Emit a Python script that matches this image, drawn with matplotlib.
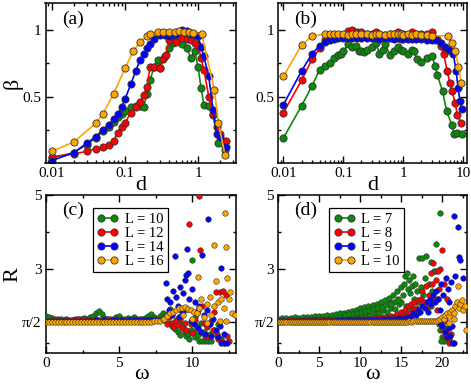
import numpy as np
import matplotlib
matplotlib.use("Agg")
import matplotlib.pyplot as plt
from matplotlib.lines import Line2D
from matplotlib.ticker import LogLocator, NullFormatter, FixedLocator

plt.rcParams['font.family'] = ['Liberation Serif', 'DejaVu Serif']
plt.rcParams['mathtext.fontset'] = 'stix'

GREEN = '#0a8a0a'
RED = '#ff0000'
BLUE = '#0000ff'
ORANGE = '#ffa500'
EDGE = '#333333'

# ---------------- panel (a) ----------------
a_green_d = [0.01, 0.02, 0.03, 0.04, 0.05, 0.06, 0.07, 0.08, 0.09, 0.1, 0.12, 0.14, 0.16, 0.18, 0.2, 0.22,
             0.25, 0.28, 0.3, 0.35, 0.4, 0.45, 0.5, 0.6, 0.7, 0.8, 0.9, 1.0, 1.1, 1.2, 1.4, 1.6, 1.9, 2.3]
a_green_b = [0.04, 0.08, 0.14, 0.19, 0.24, 0.27, 0.31, 0.35, 0.37, 0.39, 0.42, 0.43, 0.43, 0.42, 0.52, 0.62,
             0.72, 0.77, 0.71, 0.80, 0.86, 0.90, 0.93, 0.89, 0.86, 0.79, 0.84, 0.72, 0.56, 0.44, 0.43, 0.36, 0.15, 0.10]
a_red_d = [0.01, 0.02, 0.03, 0.04, 0.05, 0.06, 0.07, 0.08, 0.09, 0.1, 0.12, 0.14, 0.16, 0.18, 0.2, 0.22,
           0.25, 0.3, 0.33, 0.36, 0.4, 0.5, 0.6, 0.7, 0.8, 0.9, 1.0, 1.1, 1.2, 1.4, 1.6, 1.8, 2.0, 2.4]
a_red_b = [0.05, 0.07, 0.09, 0.11, 0.12, 0.14, 0.17, 0.23, 0.27, 0.30, 0.38, 0.42, 0.46, 0.51, 0.57, 0.72,
           0.72, 0.71, 0.78, 0.81, 0.92, 0.91, 0.94, 0.93, 0.92, 0.90, 0.88, 0.79, 0.70, 0.50, 0.37, 0.27, 0.22, 0.17]
a_blue_d = [0.01, 0.02, 0.03, 0.04, 0.05, 0.06, 0.07, 0.08, 0.09, 0.1, 0.12, 0.14, 0.16, 0.18, 0.2, 0.22,
            0.25, 0.3, 0.35, 0.4, 0.45, 0.5, 0.6, 0.7, 0.8, 0.9, 1.0, 1.1, 1.2, 1.4, 1.6, 1.8, 2.0, 2.4]
a_blue_b = [0.02, 0.08, 0.15, 0.20, 0.25, 0.29, 0.33, 0.37, 0.42, 0.48, 0.59, 0.69, 0.77, 0.82, 0.86, 0.89,
            0.93, 0.96, 0.96, 0.95, 0.96, 0.97, 1.0, 0.99, 0.97, 0.96, 0.95, 0.87, 0.80, 0.65, 0.40, 0.22, 0.20, 0.12]
a_orange_d = [0.01, 0.02, 0.04, 0.05, 0.07, 0.1, 0.13, 0.16, 0.2, 0.22, 0.28, 0.33, 0.4, 0.48, 0.55, 0.64,
              0.75, 0.85, 1.12, 1.67, 1.9, 2.34]
a_orange_b = [0.09, 0.16, 0.30, 0.37, 0.52, 0.71, 0.84, 0.91, 0.95, 0.97, 0.985, 0.985, 0.98, 0.985, 0.99, 0.985,
              0.98, 0.975, 0.97, 0.55, 0.30, 0.06]

# ---------------- panel (b) ----------------
b_green_d = [0.01, 0.02, 0.03, 0.04, 0.05, 0.06, 0.07, 0.08, 0.09, 0.1, 0.12, 0.14, 0.16, 0.18, 0.2, 0.22, 0.25,
             0.3, 0.35, 0.4, 0.45, 0.5, 0.6, 0.7, 0.8, 0.9, 1.0, 1.2, 1.4, 1.5, 1.7, 2.0, 2.5, 3.0, 3.4, 3.7,
             4.5, 5.3, 6.4, 7.1, 8.0, 9.4]
b_green_b = [0.19, 0.43, 0.58, 0.70, 0.73, 0.75, 0.79, 0.81, 0.82, 0.84, 0.89, 0.87, 0.88, 0.84, 0.84, 0.83, 0.85,
             0.87, 0.90, 0.82, 0.85, 0.89, 0.81, 0.84, 0.87, 0.85, 0.84, 0.82, 0.85, 0.84, 0.78, 0.76, 0.79, 0.80,
             0.73, 0.66, 0.54, 0.39, 0.29, 0.22, 0.23, 0.22]
b_red_d = [0.01, 0.02, 0.03, 0.04, 0.05, 0.06, 0.07, 0.08, 0.1, 0.12, 0.14, 0.17, 0.2, 0.25, 0.3, 0.35, 0.4, 0.5,
           0.6, 0.7, 0.8, 0.9, 1.0, 1.2, 1.4, 1.6, 2.0, 2.5, 3.0, 3.6, 4.2, 4.7, 5.4, 6.0, 6.5, 7.3, 8.0, 9.1]
b_red_b = [0.38, 0.62, 0.78, 0.86, 0.92, 0.93, 0.95, 0.95, 0.96, 0.99, 1.0, 0.98, 0.98, 0.97, 0.97, 0.98, 0.97, 0.96,
           0.97, 0.97, 0.98, 0.97, 0.97, 0.96, 0.98, 0.97, 0.97, 0.97, 0.985, 0.93, 0.88, 0.82, 0.69, 0.60, 0.54,
           0.45, 0.36, 0.305]
b_blue_d = [0.01, 0.02, 0.03, 0.04, 0.05, 0.06, 0.07, 0.08, 0.1, 0.12, 0.14, 0.17, 0.2, 0.25, 0.3, 0.35, 0.4, 0.5,
            0.6, 0.7, 0.8, 0.9, 1.0, 1.2, 1.4, 1.6, 2.0, 2.5, 3.0, 3.5, 4.2, 5.0, 5.8, 6.8, 7.6, 8.2, 8.8, 9.4]
b_blue_b = [0.44, 0.69, 0.82, 0.88, 0.91, 0.92, 0.93, 0.935, 0.94, 0.94, 0.935, 0.935, 0.94, 0.935, 0.935, 0.935,
            0.93, 0.935, 0.935, 0.93, 0.935, 0.93, 0.93, 0.93, 0.93, 0.93, 0.93, 0.925, 0.925, 0.92, 0.90, 0.87,
            0.85, 0.82, 0.69, 0.56, 0.47, 0.41]
b_orange_d = [0.01, 0.02, 0.03, 0.05, 0.06, 0.07, 0.08, 0.1, 0.12, 0.14, 0.16, 0.2, 0.25, 0.3, 0.35, 0.4, 0.5,
              0.6, 0.7, 0.8, 0.9, 1.0, 1.2, 1.4, 1.6, 2.0, 2.5, 3.0, 5.5, 6.5, 7.4, 8.3, 9.3]
b_orange_b = [0.65, 0.886, 0.95, 0.97, 0.97, 0.97, 0.965, 0.965, 0.96, 0.965, 0.97, 0.965, 0.965, 0.96, 0.97,
              0.965, 0.96, 0.965, 0.97, 0.965, 0.97, 0.96, 0.965, 0.96, 0.965, 0.96, 0.96, 0.955, 0.955, 0.90,
              0.84, 0.72, 0.60]

# ---------------- panel (c) ----------------
c_base_w = [0.0, 0.2, 0.4, 0.6, 0.8, 1.0, 1.2, 1.4, 1.6, 1.8, 2.0, 2.2, 2.4, 2.6, 2.8, 3.0, 3.2, 3.4, 3.6, 3.8,
            4.0, 4.2, 4.4, 4.6, 4.8, 5.0, 5.2, 5.4, 5.6, 5.8, 6.0, 6.2, 6.4, 6.6, 6.8, 7.0, 7.2, 7.4, 7.6, 7.8, 8.0]
c_green_base = [1.72, 1.70, 1.68, 1.66, 1.65, 1.64, 1.63, 1.64, 1.63, 1.62, 1.64, 1.66, 1.65, 1.68, 1.66, 1.70,
                1.74, 1.80, 1.86, 1.78, 1.68, 1.65, 1.64, 1.66, 1.70, 1.72, 1.66, 1.64, 1.68, 1.65, 1.70, 1.66,
                1.64, 1.66, 1.68, 1.72, 1.78, 1.70, 1.66, 1.74, 1.80]
c_red_base = [1.60, 1.60, 1.61, 1.60, 1.61, 1.60, 1.60, 1.61, 1.60, 1.61, 1.62, 1.64, 1.63, 1.65, 1.62, 1.61,
              1.63, 1.64, 1.62, 1.61, 1.63, 1.65, 1.62, 1.61, 1.64, 1.63, 1.62, 1.61, 1.63, 1.62, 1.64, 1.62,
              1.63, 1.61, 1.62, 1.63, 1.62, 1.64, 1.63, 1.62, 1.65]
c_blue_base = [1.59, 1.59, 1.59, 1.59, 1.59, 1.59, 1.59, 1.59, 1.60, 1.59, 1.60, 1.60, 1.59, 1.60, 1.60, 1.60,
               1.60, 1.61, 1.60, 1.60, 1.61, 1.60, 1.60, 1.61, 1.61, 1.60, 1.61, 1.60, 1.61, 1.61, 1.62, 1.61,
               1.61, 1.62, 1.61, 1.62, 1.62, 1.61, 1.62, 1.63, 1.64]
c_orange_base = [1.57, 1.57, 1.57, 1.57, 1.57, 1.57, 1.57, 1.57, 1.57, 1.57, 1.57, 1.57, 1.57, 1.57, 1.57, 1.57,
                 1.57, 1.57, 1.57, 1.57, 1.57, 1.57, 1.57, 1.57, 1.57, 1.57, 1.57, 1.57, 1.57, 1.57, 1.57, 1.57,
                 1.57, 1.57, 1.57, 1.57, 1.57, 1.58, 1.58, 1.60, 1.64]

c_green_w = [8.2, 8.4, 8.5, 8.6, 8.8, 8.9, 9.0, 9.1, 9.2, 9.3, 9.4, 9.5, 9.6, 9.7, 9.8, 9.9, 10.0, 10.1, 10.2,
             10.3, 10.4, 10.5, 10.7, 10.9, 11.1, 11.3, 10.6, 10.8, 11.0, 11.2, 11.5, 11.7, 12.0, 11.8, 9.5, 10.2]
c_green_r = [1.75, 1.55, 1.92, 1.45, 1.38, 1.62, 1.30, 1.70, 1.22, 1.52, 1.42, 1.30, 1.18, 1.25, 1.12, 1.35,
             3.24, 1.28, 1.15, 1.45, 1.22, 1.04, 1.04, 1.04, 1.04, 1.04, 1.55, 1.30, 1.42, 1.25, 1.35, 1.20,
             1.10, 1.50, 1.90, 1.70]
c_red_w = [8.1, 8.3, 8.4, 8.6, 8.7, 8.9, 9.0, 9.2, 9.3, 9.5, 9.6, 9.8, 9.9, 10.0, 10.2, 10.3, 10.5, 10.55,
           10.6, 10.8, 10.9, 11.0, 11.2, 11.3, 11.4, 11.6, 11.7, 11.8, 11.9, 12.0, 12.1, 12.2, 12.3, 12.4, 11.5,
           10.7, 12.5, 10.4]
c_red_r = [1.62, 1.50, 1.70, 1.55, 1.42, 1.60, 1.48, 1.66, 1.40, 1.55, 1.35, 4.22, 1.50, 1.28, 1.62, 1.40,
           4.97, 3.51, 1.30, 1.55, 1.20, 1.45, 1.15, 1.60, 1.35, 2.39, 1.25, 1.10, 2.39, 1.05, 2.41, 1.00,
           2.30, 1.20, 1.85, 2.00, 1.05, 1.90]
c_blue_w = [8.2, 8.3, 8.4, 8.5, 8.6, 8.7, 8.84, 8.9, 9.0, 9.1, 9.2, 9.3, 9.4, 9.5, 9.6, 9.64, 9.7, 9.8, 9.9,
            10.0, 10.1, 10.2, 10.3, 10.4, 10.5, 10.6, 10.7, 10.8, 10.9, 11.1, 11.0, 11.2, 11.3, 11.4, 11.6, 11.8,
            12.0, 12.0, 12.2, 12.4, 11.9, 12.2]
c_blue_r = [2.62, 2.20, 1.90, 2.10, 1.75, 2.40, 3.35, 2.25, 2.00, 1.70, 2.50, 1.85, 2.35, 2.70, 2.85, 3.54,
            2.90, 2.20, 1.60, 2.45, 1.50, 2.10, 1.80, 1.40, 2.00, 1.30, 3.38, 1.75, 1.25, 4.35, 1.90, 1.50,
            1.20, 1.65, 1.35, 1.15, 3.02, 1.00, 1.00, 1.00, 1.45, 1.25]
c_orange_w = [8.1, 8.3, 8.5, 8.7, 8.9, 9.1, 9.3, 9.5, 9.7, 9.9, 10.1, 10.3, 10.5, 10.43, 10.6, 10.8, 11.0, 11.2,
              11.3, 11.5, 11.5, 11.6, 11.8, 11.9, 12.0, 12.2, 12.26, 12.3, 12.4, 12.5, 12.6, 12.7, 12.9, 12.3,
              11.0, 9.4, 10.0]
c_orange_r = [1.65, 1.72, 1.80, 1.85, 1.90, 1.95, 1.95, 1.98, 1.92, 1.88, 1.85, 1.80, 1.95, 2.79, 2.20, 1.70,
              2.05, 2.25, 1.75, 3.65, 2.00, 2.68, 2.10, 1.60, 2.20, 1.95, 4.50, 3.60, 2.75, 2.20, 2.37, 1.80,
              1.75, 1.60, 1.55, 1.75, 1.65]

# ---------------- panel (d) ----------------
d_base_w = [0.0, 0.25, 0.5, 0.75, 1.0, 1.25, 1.5, 1.75, 2.0, 2.25, 2.5, 2.75, 3.0, 3.25, 3.5, 3.75, 4.0, 4.25,
            4.5, 4.75, 5.0, 5.25, 5.5, 5.75, 6.0, 6.25, 6.5, 6.75, 7.0, 7.25, 7.5, 7.75, 8.0, 8.25, 8.5, 8.75,
            9.0, 9.25, 9.5, 9.75, 10.0, 10.25, 10.5, 10.75, 11.0, 11.25, 11.5, 11.75, 12.0, 12.25, 12.5, 12.75,
            13.0, 13.25, 13.5, 13.75, 14.0, 14.25, 14.5, 14.75, 15.0, 15.25, 15.5, 15.75, 16.0, 16.25, 16.5,
            16.75, 17.0, 17.25, 17.5, 17.75, 18.0, 18.25, 18.5, 18.75, 19.0]

d_green_base = [1.66, 1.62, 1.68, 1.62, 1.67, 1.63, 1.68, 1.62, 1.69, 1.63, 1.68, 1.63, 1.70, 1.63, 1.69, 1.64,
                1.71, 1.63, 1.72, 1.64, 1.72, 1.64, 1.73, 1.65, 1.75, 1.64, 1.76, 1.66, 1.78, 1.65, 1.80, 1.67,
                1.82, 1.68, 1.84, 1.70, 1.86, 1.72, 1.90, 1.74, 1.94, 1.72, 1.96, 1.78, 2.00, 1.75, 2.02, 1.82,
                2.06, 1.80, 2.10, 1.88, 2.15, 1.85, 2.22, 1.95, 2.30, 1.92, 2.40, 2.05, 2.50]
d_green_mid_w = [8.1, 8.6, 9.1, 9.6, 10.1, 10.6, 11.1, 11.6, 12.1, 12.6, 13.1, 13.6, 14.1, 14.6]
d_green_mid_r = [1.75, 1.77, 1.79, 1.82, 1.84, 1.86, 1.90, 1.92, 1.95, 1.98, 2.02, 2.08, 2.12, 2.20]
d_green_w = [15.2, 15.4, 15.5, 15.7, 15.8, 16.0, 16.1, 16.3, 16.4, 16.6, 16.7, 16.9, 17.0, 17.2, 17.4, 17.5, 17.7,
             17.9, 18.0, 18.2, 18.4, 18.6, 18.8, 19.0, 19.2, 19.3, 19.5, 19.8, 19.6, 19.8, 20.0, 20.2, 20.4, 20.6,
             19.9, 20.8, 15.0, 15.6, 16.2, 14.6, 13.8, 18.7]
d_green_r = [2.30, 2.60, 2.80, 2.90, 2.45, 2.70, 2.35, 2.55, 2.80, 2.20, 2.60, 2.40, 2.10, 3.30, 2.50, 3.31, 2.30,
             2.75, 3.35, 2.10, 2.60, 2.00, 2.40, 2.95, 3.67, 2.95, 2.20, 4.52, 1.50, 1.35, 1.15, 1.04, 1.40, 1.20,
             1.05, 1.10, 2.10, 2.00, 1.95, 2.15, 2.05, 3.20]

d_red_base = [1.60, 1.60, 1.60, 1.60, 1.60, 1.61, 1.60, 1.61, 1.60, 1.61, 1.61, 1.60, 1.61, 1.61, 1.60, 1.61,
              1.61, 1.61, 1.61, 1.62, 1.62, 1.61, 1.62, 1.62, 1.62, 1.63, 1.62, 1.62, 1.62, 1.63, 1.63, 1.62,
              1.62, 1.63, 1.63, 1.64, 1.63, 1.64, 1.64, 1.65, 1.63, 1.65, 1.65, 1.66, 1.64, 1.66, 1.66, 1.67,
              1.65, 1.68, 1.68, 1.70, 1.66, 1.70, 1.70, 1.72, 1.68]
d_red_w = [14.2, 14.5, 14.8, 15.0, 15.3, 15.5, 15.8, 16.0, 16.2, 16.4, 16.6, 16.8, 17.0, 17.2, 17.4, 17.6, 17.8,
           18.0, 18.2, 18.4, 18.6, 18.8, 19.0, 19.2, 19.4, 19.6, 19.8, 20.0, 20.2, 20.4, 20.1, 20.3, 20.5, 20.7,
           20.9, 21.1, 21.3, 20.6, 19.5, 18.9]
d_red_r = [1.72, 1.78, 1.70, 1.85, 1.75, 1.90, 2.00, 1.80, 2.05, 1.90, 2.10, 1.95, 2.15, 1.85, 2.20, 2.40, 2.10,
           2.55, 1.95, 2.30, 2.90, 2.60, 2.20, 2.70, 1.90, 2.45, 3.00, 3.51, 2.60, 1.60, 1.35, 1.20, 1.30, 1.10,
           1.00, 1.25, 1.00, 2.20, 2.95, 3.15]

d_blue_base = [1.58, 1.58, 1.58, 1.58, 1.58, 1.58, 1.58, 1.59, 1.58, 1.59, 1.59, 1.59, 1.59, 1.59, 1.59, 1.59,
               1.59, 1.59, 1.59, 1.60, 1.59, 1.60, 1.60, 1.60, 1.60, 1.60, 1.60, 1.60, 1.60, 1.61, 1.60, 1.61,
               1.60, 1.61, 1.61, 1.61, 1.61, 1.61, 1.61, 1.62, 1.61, 1.62, 1.62, 1.62, 1.62, 1.63, 1.62, 1.63,
               1.62, 1.63, 1.63, 1.64, 1.63, 1.64, 1.64, 1.65, 1.64, 1.66, 1.65, 1.67, 1.66, 1.68, 1.67, 1.70,
               1.69]
d_blue_w = [16.2, 16.5, 16.8, 17.0, 17.3, 17.6, 17.9, 18.1, 18.3, 18.5, 18.7, 18.9, 19.1, 19.3, 19.5, 19.7, 19.9,
            20.1, 20.3, 20.5, 20.7, 20.9, 21.1, 21.2, 21.4, 21.6, 21.9, 22.0, 22.2, 22.5, 20.4, 20.6, 20.8, 21.0,
            21.2, 21.5, 19.8, 20.0]
d_blue_r = [1.70, 1.80, 1.75, 1.90, 1.85, 2.00, 1.95, 2.10, 1.85, 2.20, 2.05, 2.30, 2.10, 2.40, 2.20, 1.90, 2.60,
            2.30, 1.70, 2.75, 2.45, 2.10, 2.65, 1.45, 4.43, 2.80, 4.14, 3.33, 3.24, 2.75, 1.30, 1.15, 1.40, 1.20,
            1.00, 1.00, 1.55, 1.45]

d_orange_base = [1.57, 1.57, 1.57, 1.57, 1.57, 1.57, 1.57, 1.57, 1.57, 1.57, 1.57, 1.57, 1.57, 1.57, 1.57, 1.57,
                 1.57, 1.57, 1.57, 1.57, 1.57, 1.57, 1.57, 1.57, 1.57, 1.57, 1.57, 1.57, 1.57, 1.57, 1.57, 1.57,
                 1.57, 1.57, 1.57, 1.57, 1.57, 1.57, 1.57, 1.57, 1.57, 1.57, 1.57, 1.57, 1.57, 1.57, 1.57, 1.57,
                 1.57, 1.57, 1.57, 1.57, 1.57, 1.57, 1.57, 1.57, 1.57, 1.57, 1.57, 1.57, 1.57, 1.57, 1.57, 1.57,
                 1.58, 1.57, 1.58, 1.58, 1.58, 1.58, 1.59, 1.58, 1.59, 1.59, 1.60, 1.59, 1.60]
d_orange_w = [19.2, 19.5, 19.8, 20.0, 20.2, 20.4, 20.6, 20.8, 21.0, 21.2, 21.4, 21.6, 21.8, 21.9, 22.0, 22.2,
              22.4, 22.6, 22.8, 22.9, 21.5, 20.9]
d_orange_r = [1.60, 1.62, 1.65, 1.70, 1.66, 1.75, 1.80, 1.72, 1.85, 1.90, 1.80, 2.00, 2.10, 2.54, 1.95, 2.05,
              2.15, 1.90, 2.00, 1.35, 1.65, 1.55]

W, H = 471, 385
fig = plt.figure(figsize=(W / 100, H / 100), dpi=100)


def box(x0, y0, x1, y1):
    # pixel box -> figure fraction
    return [x0 / W, 1 - y1 / H, (x1 - x0) / W, (y1 - y0) / H]


def style(ax):
    ax.tick_params(which='both', direction='in', top=True, right=True, labelsize=11, pad=3)
    ax.tick_params(which='major', length=5, width=1)
    ax.tick_params(which='minor', length=2.5, width=1)
    for s in ax.spines.values():
        s.set_linewidth(1.1)


ax_a = fig.add_axes(box(45.5, 3, 236, 163.3))
ax_b = fig.add_axes(box(278.3, 3, 466.7, 163.3))
ax_c = fig.add_axes(box(46, 195, 236, 353.3))
ax_d = fig.add_axes(box(278.3, 195, 466.7, 353.3))

line_kw = dict(marker='o', markersize=5.2, markeredgecolor=EDGE, markeredgewidth=0.6, linewidth=1.2)

for ax, sets, xlim in [
    (ax_a, [(a_green_d, a_green_b, GREEN), (a_red_d, a_red_b, RED),
            (a_blue_d, a_blue_b, BLUE), (a_orange_d, a_orange_b, ORANGE)], (0.0082, 3.3)),
    (ax_b, [(b_green_d, b_green_b, GREEN), (b_red_d, b_red_b, RED),
            (b_blue_d, b_blue_b, BLUE), (b_orange_d, b_orange_b, ORANGE)], (0.0082, 11.4)),
]:
    for x, y, c in sets:
        ax.plot(x, y, color=c, markerfacecolor=c, **line_kw)
    ax.set_xscale('log')
    ax.set_xlim(*xlim)
    ax.set_ylim(0, 1.2)
    ax.xaxis.set_major_locator(FixedLocator([0.01, 0.1, 1, 10]))
    ax.set_xticklabels(['0.01', '0.1', '1', '10'])
    ax.xaxis.set_minor_locator(LogLocator(base=10, subs=np.arange(2, 10)))
    ax.xaxis.set_minor_formatter(NullFormatter())
    ax.set_yticks([0.5, 1])
    ax.set_yticklabels(['0.5', '1'])
    ax.set_yticks([0.25, 0.75], minor=True)
    ax.set_xlabel('d', fontsize=16, labelpad=-3)
    style(ax)

ax_a.set_xlim(0.0082, 3.3)
ax_a.set_ylabel('β', fontsize=16, labelpad=0)

sc_kw = dict(s=16, edgecolors=EDGE, linewidths=0.4, zorder=3)

for x, y, c in [(c_base_w, c_green_base, GREEN), (c_green_w, c_green_r, GREEN),
                (c_base_w, c_red_base, RED), (c_red_w, c_red_r, RED),
                (c_base_w, c_blue_base, BLUE), (c_blue_w, c_blue_r, BLUE),
                (c_base_w, c_orange_base, ORANGE), (c_orange_w, c_orange_r, ORANGE)]:
    ax_c.scatter(x, y, color=c, **sc_kw)

for x, y, c in [(d_base_w[:61], d_green_base, GREEN), (d_green_mid_w, d_green_mid_r, GREEN),
                (d_green_w, d_green_r, GREEN),
                (d_base_w[:57], d_red_base, RED), (d_red_w, d_red_r, RED),
                (d_base_w[:65], d_blue_base, BLUE), (d_blue_w, d_blue_r, BLUE),
                (d_base_w, d_orange_base, ORANGE), (d_orange_w, d_orange_r, ORANGE)]:
    ax_d.scatter(x, y, color=c, **sc_kw)

ax_c.set_xlim(0, 13)
ax_d.set_xlim(0, 23)
for ax, xmaj, xmin in [(ax_c, [0, 5, 10], [2.5, 7.5, 12.5]),
                       (ax_d, [0, 5, 10, 15, 20], [2.5, 7.5, 12.5, 17.5, 22.5])]:
    ax.set_ylim(0.72, 5)
    ax.set_yticks([np.pi / 2, 3, 5])
    ax.set_yticklabels(['π/2', '3', '5'])
    ax.set_yticks([1, 4], minor=True)
    ax.set_xticks(xmaj)
    ax.set_xticks(xmin, minor=True)
    ax.set_xlabel('ω', fontsize=16, labelpad=-4)
    style(ax)

ax_c.set_ylabel('R', fontsize=16, labelpad=0)

for ax, lab in [(ax_a, '(a)'), (ax_b, '(b)'), (ax_c, '(c)'), (ax_d, '(d)')]:
    ax.text(0.085, 0.955, lab, transform=ax.transAxes, ha='left', va='top', fontsize=14)


def handles(labels):
    return [Line2D([0], [0], color=c, markerfacecolor=c, label=l, **line_kw)
            for c, l in zip([GREEN, RED, BLUE, ORANGE], labels)]


for ax, labels, pos in [(ax_c, ['L = 10', 'L = 12', 'L = 14', 'L = 16'], (0.245, 0.915)),
                        (ax_d, ['L = 7', 'L = 8', 'L = 9', 'L = 10'], (0.268, 0.915))]:
    leg = ax.legend(handles=handles(labels), loc='upper left', bbox_to_anchor=pos, fontsize=10.5,
                    numpoints=2, handlelength=1.5, handletextpad=0.4, labelspacing=0.05,
                    borderpad=0.3, borderaxespad=0, fancybox=False, framealpha=1, edgecolor='black')
    leg.get_frame().set_linewidth(0.9)

fig.savefig('out.png', dpi=100)
